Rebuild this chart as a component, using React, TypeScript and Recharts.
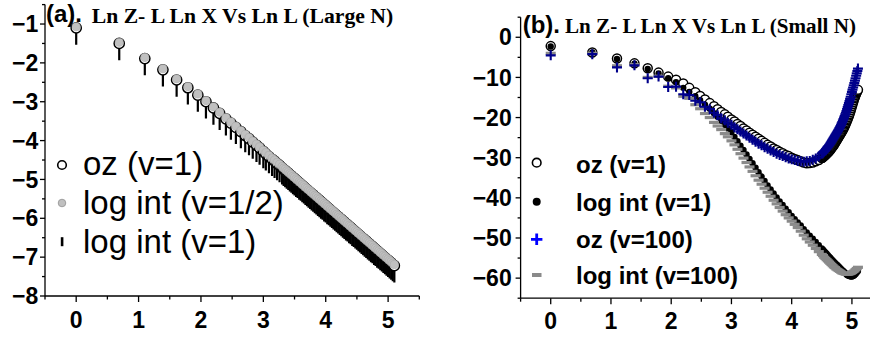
import React from 'react';
import { ScatterChart, Scatter, XAxis, YAxis, Legend } from 'recharts';

const SANS = '"Liberation Sans", Arial, sans-serif';
const SERIF = '"Liberation Serif", "Times New Roman", serif';

// ---------- Panel (a): Large N ----------
const xsL = [0, 0.69, 1.1, 1.39, 1.61, 1.79, 1.95, 2.08, 2.2, 2.3, 2.4, 2.48, 2.56, 2.64, 2.71, 2.77, 2.83, 2.89, 2.94, 3.0,
  3.04, 3.09, 3.14, 3.18, 3.22, 3.26, 3.3,
  3.325, 3.35, 3.375, 3.4, 3.425, 3.45, 3.475, 3.5, 3.525, 3.55, 3.575, 3.6, 3.625, 3.65, 3.675, 3.7, 3.725, 3.75, 3.775, 3.8,
  3.825, 3.85, 3.875, 3.9, 3.925, 3.95, 3.975, 4.0, 4.025, 4.05, 4.075, 4.1, 4.125, 4.15, 4.175, 4.2, 4.225, 4.25, 4.275, 4.3,
  4.325, 4.35, 4.375, 4.4, 4.425, 4.45, 4.475, 4.5, 4.525, 4.55, 4.575, 4.6, 4.625, 4.65, 4.675, 4.7, 4.725, 4.75, 4.775, 4.8,
  4.825, 4.85, 4.875, 4.9, 4.925, 4.95, 4.975, 5.0, 5.025, 5.05, 5.075, 5.1];
const ozL = [-1.1, -1.5, -1.89, -2.18, -2.44, -2.64, -2.83, -3.0, -3.16, -3.3, -3.44, -3.55, -3.66, -3.77, -3.87, -3.95, -4.04, -4.12, -4.19, -4.28,
  -4.34, -4.41, -4.48, -4.53, -4.59, -4.64, -4.7,
  -4.74, -4.77, -4.81, -4.84, -4.88, -4.91, -4.95, -4.98, -5.02, -5.05, -5.09, -5.12, -5.16, -5.19, -5.23, -5.26, -5.3, -5.33, -5.37, -5.4,
  -5.44, -5.47, -5.51, -5.54, -5.58, -5.61, -5.65, -5.68, -5.72, -5.75, -5.79, -5.82, -5.86, -5.89, -5.93, -5.96, -6.0, -6.03, -6.07, -6.1,
  -6.14, -6.17, -6.21, -6.24, -6.28, -6.31, -6.35, -6.38, -6.42, -6.45, -6.49, -6.52, -6.56, -6.59, -6.63, -6.66, -6.7, -6.73, -6.77, -6.8,
  -6.84, -6.87, -6.91, -6.94, -6.98, -7.01, -7.05, -7.08, -7.12, -7.15, -7.19, -7.22];
const logHalfL = [-1.07, -1.47, -1.86, -2.15, -2.41, -2.61, -2.8, -2.97, -3.13, -3.27, -3.41, -3.52, -3.63, -3.74, -3.84, -3.92, -4.01, -4.09, -4.16, -4.25,
  -4.31, -4.38, -4.45, -4.5, -4.56, -4.61, -4.67,
  -4.71, -4.74, -4.78, -4.81, -4.85, -4.88, -4.92, -4.95, -4.99, -5.02, -5.06, -5.09, -5.13, -5.16, -5.2, -5.23, -5.27, -5.3, -5.34, -5.37,
  -5.41, -5.44, -5.48, -5.51, -5.55, -5.58, -5.62, -5.65, -5.69, -5.72, -5.76, -5.79, -5.83, -5.86, -5.9, -5.93, -5.97, -6.0, -6.04, -6.07,
  -6.11, -6.14, -6.18, -6.21, -6.25, -6.28, -6.32, -6.35, -6.39, -6.42, -6.46, -6.49, -6.53, -6.56, -6.6, -6.63, -6.67, -6.7, -6.74, -6.77,
  -6.81, -6.84, -6.88, -6.91, -6.95, -6.98, -7.02, -7.05, -7.09, -7.12, -7.16, -7.19];
const logOneL = [-1.35, -1.75, -2.14, -2.43, -2.69, -2.89, -3.08, -3.25, -3.41, -3.55, -3.69, -3.8, -3.91, -4.02, -4.12, -4.2, -4.29, -4.37, -4.44, -4.53,
  -4.59, -4.66, -4.73, -4.78, -4.84, -4.89, -4.95,
  -4.99, -5.02, -5.06, -5.09, -5.13, -5.16, -5.2, -5.23, -5.27, -5.3, -5.34, -5.37, -5.41, -5.44, -5.48, -5.51, -5.55, -5.58, -5.62, -5.65,
  -5.69, -5.72, -5.76, -5.79, -5.83, -5.86, -5.9, -5.93, -5.97, -6.0, -6.04, -6.07, -6.11, -6.14, -6.18, -6.21, -6.25, -6.28, -6.32, -6.35,
  -6.39, -6.42, -6.46, -6.49, -6.53, -6.56, -6.6, -6.63, -6.67, -6.7, -6.74, -6.77, -6.81, -6.84, -6.88, -6.91, -6.95, -6.98, -7.02, -7.05,
  -7.09, -7.12, -7.16, -7.19, -7.23, -7.26, -7.3, -7.33, -7.37, -7.4, -7.44, -7.47];

// ---------- Panel (b): Small N ----------
// lower-branch series (log int)
const xsR = [0, 0.69, 1.1, 1.39, 1.61, 1.79, 1.95, 2.08, 2.2, 2.3, 2.4, 2.48, 2.56, 2.64, 2.71, 2.77, 2.83, 2.89, 2.94, 3.0,
  3.05, 3.1, 3.15, 3.2, 3.25, 3.3, 3.35, 3.4, 3.45, 3.5, 3.55, 3.6, 3.65, 3.7, 3.75, 3.8, 3.85, 3.9, 3.95, 4.0,
  4.05, 4.1, 4.15, 4.2, 4.25, 4.3, 4.35, 4.4, 4.45, 4.5,
  4.52, 4.54, 4.56, 4.58, 4.6, 4.62, 4.64, 4.66, 4.68, 4.7, 4.72, 4.74, 4.76, 4.78, 4.8,
  4.82, 4.84, 4.86, 4.88, 4.9, 4.92, 4.94, 4.96, 4.98, 5.0, 5.02, 5.04, 5.06, 5.08, 5.1];
const logV1R = [-2.3, -3.8, -5.4, -6.6, -7.9, -9.0, -10.2, -11.2, -12.6, -13.6, -14.7, -15.7, -16.8, -17.8, -18.9, -19.8, -20.8, -21.8, -22.7, -23.6,
  -24.8, -25.9, -27.0, -28.1, -29.2, -30.3, -31.4, -32.5, -33.6, -34.7, -35.8, -36.9, -37.9, -38.9, -39.9, -40.9, -41.8, -42.7, -43.6, -44.5,
  -45.3, -46.1, -46.9, -47.8, -48.6, -49.4, -50.2, -51.0, -51.8, -52.6,
  -52.9, -53.3, -53.6, -53.9, -54.3, -54.6, -54.9, -55.3, -55.6, -55.9, -56.2, -56.5, -56.8, -57.1, -57.4,
  -57.7, -58.0, -58.3, -58.6, -58.9, -59.2, -59.4, -59.5, -59.6, -59.6, -59.5, -59.3, -59.0, -58.6, -58.2];
const logV100R = [-4.0, -4.0, -7.1, -6.8, -10.0, -9.7, -12.2, -12.6, -14.7, -15.2, -16.8, -17.8, -19.0, -20.0, -21.2, -22.1, -23.0, -24.0, -24.8, -25.8,
  -26.8, -27.9, -29.0, -30.1, -31.2, -32.3, -33.4, -34.5, -35.6, -36.6, -37.6, -38.6, -39.6, -40.6, -41.5, -42.4, -43.3, -44.2, -45.0, -45.8,
  -46.6, -47.4, -48.3, -49.3, -50.2, -51.0, -51.8, -52.6, -53.4, -54.1,
  -54.4, -54.8, -55.1, -55.4, -55.7, -56.0, -56.3, -56.6, -56.9, -57.2, -57.4, -57.7, -57.9, -58.1, -58.3,
  -58.5, -58.7, -58.8, -58.9, -59.0, -59.0, -59.0, -58.9, -58.8, -58.6, -58.4, -58.2, -57.9, -57.6, -57.3];
// upper-branch series (oz), denser near the steep rise
const xsRU = [0, 0.69, 1.1, 1.39, 1.61, 1.79, 1.95, 2.08, 2.2, 2.3, 2.4, 2.48, 2.56, 2.64, 2.71, 2.77, 2.83, 2.89, 2.94, 3.0,
  3.05, 3.1, 3.15, 3.2, 3.25, 3.3, 3.35, 3.4, 3.45, 3.5, 3.55, 3.6, 3.65, 3.7, 3.75, 3.8, 3.85, 3.9, 3.95, 4.0,
  4.05, 4.1, 4.15, 4.2, 4.25, 4.3, 4.35, 4.4, 4.45, 4.5,
  4.51, 4.52, 4.53, 4.54, 4.55, 4.56, 4.57, 4.58, 4.59, 4.6, 4.61, 4.62, 4.63, 4.64, 4.65, 4.66, 4.67, 4.68, 4.69, 4.7,
  4.71, 4.72, 4.73, 4.74, 4.75, 4.76, 4.77, 4.78, 4.79, 4.8, 4.81, 4.82, 4.83, 4.84, 4.85, 4.86, 4.87, 4.88, 4.89, 4.9,
  4.91, 4.92, 4.93, 4.94, 4.95, 4.96, 4.97, 4.98, 4.99, 5.0, 5.01, 5.02, 5.03, 5.04, 5.05, 5.06, 5.07, 5.08, 5.09, 5.1];
const ozV1R = [-2.2, -3.8, -5.3, -6.5, -7.7, -8.8, -9.8, -10.6, -11.5, -12.6, -13.7, -14.6, -15.5, -16.4, -17.2, -17.9, -18.6, -19.2, -19.8, -20.5,
  -21.0, -21.6, -22.1, -22.7, -23.2, -23.8, -24.3, -24.8, -25.3, -25.8, -26.3, -26.8, -27.2, -27.7, -28.1, -28.5, -28.9, -29.3, -29.6, -30.0,
  -30.3, -30.6, -30.9, -31.2, -31.4, -31.35, -31.2, -30.9, -30.6, -30.1,
  -30.0, -29.85, -29.7, -29.6, -29.45, -29.3, -29.15, -29.0, -28.85, -28.7, -28.55, -28.4, -28.2, -28.0, -27.8, -27.6, -27.4, -27.2, -27.0, -26.8,
  -26.55, -26.3, -26.05, -25.8, -25.55, -25.3, -25.05, -24.8, -24.55, -24.3, -24.05, -23.8, -23.55, -23.3, -23.0, -22.7, -22.4, -22.1, -21.75, -21.4,
  -21.05, -20.7, -20.3, -19.9, -19.5, -19.1, -18.65, -18.2, -17.7, -17.2, -16.7, -16.2, -15.7, -15.2, -14.8, -14.4, -14.0, -13.7, -13.4, -13.1];
const ozV100R = [-4.5, -4.2, -7.5, -7.0, -10.2, -9.8, -12.4, -12.3, -14.2, -14.4, -15.8, -16.2, -17.3, -17.9, -18.8, -19.4, -20.2, -20.7, -21.3, -21.8,
  -22.4, -22.9, -23.5, -24.0, -24.5, -25.0, -25.5, -26.0, -26.5, -26.9, -27.4, -27.8, -28.2, -28.6, -29.0, -29.3, -29.6, -29.9, -30.2, -30.4,
  -30.6, -30.8, -30.9, -31.0, -30.9, -30.8, -30.5, -30.2, -29.7, -29.0,
  -28.85, -28.7, -28.55, -28.4, -28.25, -28.1, -27.9, -27.7, -27.5, -27.3, -27.1, -26.9, -26.7, -26.5, -26.25, -26.0, -25.75, -25.5, -25.25, -25.0,
  -24.75, -24.5, -24.25, -24.0, -23.75, -23.5, -23.25, -23.0, -22.7, -22.4, -22.1, -21.8, -21.45, -21.1, -20.75, -20.4, -20.0, -19.6, -19.2, -18.8,
  -18.35, -17.9, -17.4, -16.9, -16.4, -15.9, -15.35, -14.8, -14.2, -13.6, -13.05, -12.5, -11.95, -11.4, -10.8, -10.2, -9.6, -9.0, -8.4, -7.8];

// ---------- ticks / labels ----------
const xTicksL = [-0.5, 0, 0.5, 1, 1.5, 2, 2.5, 3, 3.5, 4, 4.5, 5, 5.5];
const yTicksL = [-8, -7.5, -7, -6.5, -6, -5.5, -5, -4.5, -4, -3.5, -3, -2.5, -2, -1.5, -1, -0.5];
const xTicksR = [-0.5, 0, 0.5, 1, 1.5, 2, 2.5, 3, 3.5, 4, 4.5, 5];
const yTicksR = [-65, -60, -55, -50, -45, -40, -35, -30, -25, -20, -15, -10, -5, 0, 5];

const titleTagL = '(a).';
const titleL = 'Ln Z- L Ln X Vs Ln L (Large N)';
const titleTagR = '(b).';
const titleR = 'Ln Z- L Ln X Vs Ln L (Small N)';
const namesL = ['oz (v=1)', 'log int (v=1/2)', 'log int (v=1)'];
const namesR = ['oz (v=1)', 'log int (v=1)', 'oz (v=100)', 'log int (v=100)'];

const toPts = (xs: number[], ys: number[]) => xs.map((x, i) => ({ x, y: ys[i] }));

const fmt = (v: number) => (v < 0 ? '\u2212' + Math.abs(v) : String(v));

const makeXTick = (labelDy: number) => (props: any) => {
  const { x, y, payload } = props;
  const v = payload.value;
  const major = Number.isInteger(v);
  return (
    <g>
      <line x1={x} y1={y} x2={x} y2={y + (major ? 6 : 3.5)} stroke="#000" strokeWidth={1.3} />
      {major && (
        <text x={x} y={y + labelDy} textAnchor="middle" fontFamily={SANS} fontWeight="bold" fontSize={23} fill="#000">
          {fmt(v)}
        </text>
      )}
    </g>
  );
};

const makeYTick = (step: number, gap: number) => (props: any) => {
  const { x, y, payload } = props;
  const v = payload.value;
  const major = Math.abs(v / step - Math.round(v / step)) < 1e-9;
  return (
    <g>
      <line x1={x} y1={y} x2={x - (major ? 5 : 3)} y2={y} stroke="#000" strokeWidth={1.3} />
      {major && (
        <text x={x - gap} y={y + 8.2} textAnchor="end" fontFamily={SANS} fontWeight="bold" fontSize={23} fill="#000">
          {fmt(v)}
        </text>
      )}
    </g>
  );
};

// ---------- shapes ----------
const whiteCircle = (r: number, sw: number) => (p: any) => (
  <circle cx={p.cx} cy={p.cy} r={r} fill="#fff" stroke="#000" strokeWidth={sw} />
);
const grayCircle = (p: any) => <circle cx={p.cx} cy={p.cy} r={4.1} fill="#c0c0c0" stroke="#a8a8a8" strokeWidth={0.6} />;
const blackBar = (p: any) => <line x1={p.cx} y1={p.cy - 7} x2={p.cx} y2={p.cy + 7} stroke="#000" strokeWidth={2.2} />;
const blackDot = (p: any) => <circle cx={p.cx} cy={p.cy} r={3.2} fill="#000" />;
const bluePlus = (p: any) => (
  <path d={`M${p.cx - 5},${p.cy}H${p.cx + 5}M${p.cx},${p.cy - 5}V${p.cy + 5}`} stroke="#00008b" strokeWidth={2.1} fill="none" />
);
const grayDash = (p: any) => <rect x={p.cx - 5} y={p.cy - 1.6} width={10} height={3.2} fill="#8a8a8a" />;

const axisLineStyle = { stroke: '#000', strokeWidth: 1.3 };

const LegendLeft = () => (
  <svg width={435} height={339} style={{ position: 'absolute', left: 0, top: 0, overflow: 'visible' }}>
    <circle cx={62} cy={165} r={4.3} fill="#fff" stroke="#000" strokeWidth={1.6} />
    <text x={83} y={174.7} fontFamily={SANS} fontSize={33} fill="#000">{namesL[0]}</text>
    <circle cx={62} cy={203} r={3.8} fill="#c0c0c0" stroke="#909090" strokeWidth={0.8} />
    <text x={83} y={214.3} fontFamily={SANS} fontSize={33} fill="#000">{namesL[1]}</text>
    <rect x={60.8} y={237.2} width={2.6} height={9} fill="#000" />
    <text x={83} y={253} fontFamily={SANS} fontSize={33} fill="#000">{namesL[2]}</text>
  </svg>
);

const LegendRight = () => (
  <svg width={436} height={339} style={{ position: 'absolute', left: 0, top: 0, overflow: 'visible' }}>
    <circle cx={101.7} cy={162.7} r={4.3} fill="#fff" stroke="#000" strokeWidth={1.6} />
    <text x={141} y={173} fontFamily={SANS} fontWeight="bold" fontSize={24} fill="#000">{namesR[0]}</text>
    <circle cx={101.7} cy={201.7} r={4} fill="#000" />
    <text x={141} y={210.5} fontFamily={SANS} fontWeight="bold" fontSize={24} fill="#000">{namesR[1]}</text>
    <path d="M96,239.3H107.4M101.7,233.6V245" stroke="#0000ff" strokeWidth={2.8} />
    <text x={141} y={248} fontFamily={SANS} fontWeight="bold" fontSize={24} fill="#000">{namesR[2]}</text>
    <rect x={97} y={273} width={9.5} height={4} fill="#8a8a8a" />
    <text x={141} y={283.5} fontFamily={SANS} fontWeight="bold" fontSize={24} fill="#000">{namesR[3]}</text>
  </svg>
);

const legendWrap = (w: number) => ({ position: 'absolute' as const, left: 0, top: 0, width: w, height: 339, pointerEvents: 'none' as const });

export default function App() {
  return (
    <div style={{ position: 'absolute', left: 0, top: 0, width: 871, height: 339, background: '#fff', overflow: 'hidden' }}>
      <svg width={871} height={339} style={{ position: 'absolute', left: 0, top: 0 }}>
        <text x={46} y={21.7} fontFamily={SANS} fontWeight="bold" fontSize={24} fill="#000">{titleTagL}</text>
        <text x={91.7} y={22.5} fontFamily={SERIF} fontWeight="bold" fontSize={21.7} fill="#000">{titleL}</text>
        <text x={522.7} y={33.3} fontFamily={SANS} fontWeight="bold" fontSize={24} fill="#000">{titleTagR}</text>
        <text x={565} y={33.3} fontFamily={SERIF} fontWeight="bold" fontSize={21.1} fill="#000">{titleR}</text>
      </svg>

      <div style={{ position: 'absolute', left: 0, top: 0 }}>
        <ScatterChart width={435} height={339} margin={{ top: 4.6, right: 15.7, bottom: 0, left: 0 }}>
          <XAxis
            type="number" dataKey="x" domain={[-0.5, 5.5]} ticks={xTicksL} interval={0} height={43}
            allowDataOverflow axisLine={axisLineStyle} tickLine={false} tickSize={0} tickMargin={0}
            tick={makeXTick(32.3)}
          />
          <YAxis
            type="number" dataKey="y" domain={[-8, -0.5]} ticks={yTicksL} interval={0} width={45}
            allowDataOverflow axisLine={axisLineStyle} tickLine={false} tickSize={0} tickMargin={0}
            tick={makeYTick(1, 6.7)}
          />
          <Legend layout="horizontal" verticalAlign="middle" align="center" wrapperStyle={legendWrap(435)} content={() => <LegendLeft />} />
          <Scatter name={namesL[2]} data={toPts(xsL, logOneL)} shape={blackBar} isAnimationActive={false} />
          <Scatter name={namesL[0]} data={toPts(xsL, ozL)} shape={whiteCircle(5.1, 1.5)} isAnimationActive={false} />
          <Scatter name={namesL[1]} data={toPts(xsL, logHalfL)} shape={grayCircle} isAnimationActive={false} />
        </ScatterChart>
      </div>

      <div style={{ position: 'absolute', left: 435, top: 0 }}>
        <ScatterChart width={436} height={339} margin={{ top: 17.2, right: 1, bottom: 0, left: 0 }}>
          <XAxis
            type="number" dataKey="x" domain={[-0.5, 5.3]} ticks={xTicksR} interval={0} height={40.8}
            allowDataOverflow axisLine={axisLineStyle} tickLine={false} tickSize={0} tickMargin={0}
            tick={makeXTick(31)}
          />
          <YAxis
            type="number" dataKey="y" domain={[-65, 5]} ticks={yTicksR} interval={0} width={85.6}
            allowDataOverflow axisLine={axisLineStyle} tickLine={false} tickSize={0} tickMargin={0}
            tick={makeYTick(10, 8.9)}
          />
          <Legend layout="horizontal" verticalAlign="middle" align="center" wrapperStyle={legendWrap(436)} content={() => <LegendRight />} />
          <Scatter name={namesR[0]} data={toPts(xsRU, ozV1R)} shape={whiteCircle(4.5, 1.5)} isAnimationActive={false} />
          <Scatter name={namesR[1]} data={toPts(xsR, logV1R)} shape={blackDot} isAnimationActive={false} />
          <Scatter name={namesR[3]} data={toPts(xsR, logV100R)} shape={grayDash} isAnimationActive={false} />
          <Scatter name={namesR[2]} data={toPts(xsRU, ozV100R)} shape={bluePlus} isAnimationActive={false} />
        </ScatterChart>
      </div>
    </div>
  );
}
